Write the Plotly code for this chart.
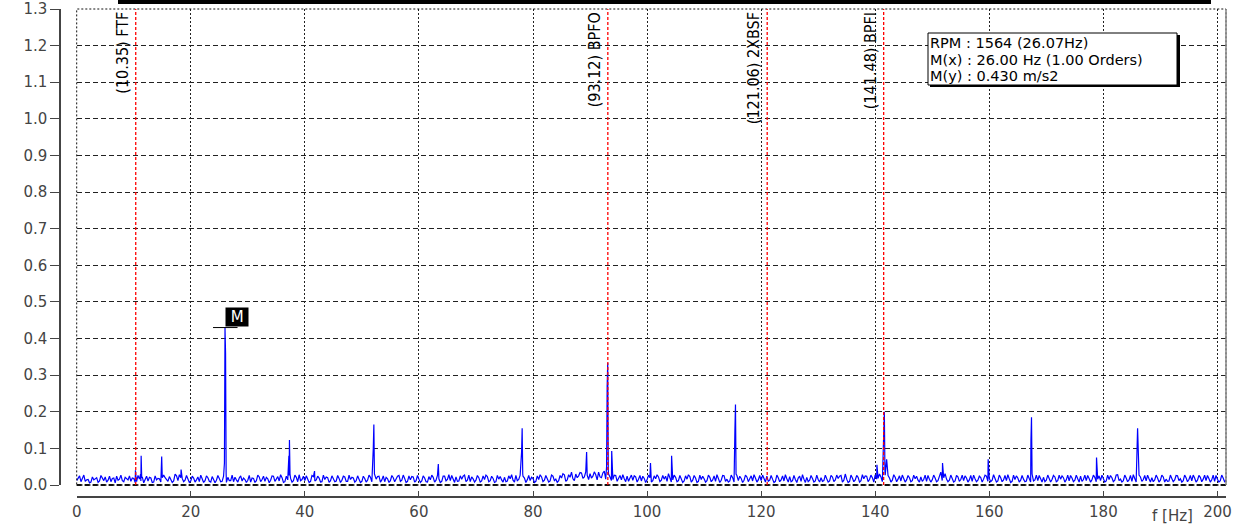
import numpy as np
import plotly.graph_objects as go

# ---------------- data ----------------
BASE_STEP = 0.5  # Hz between baseline spectral lines (two interleaved sets)
BASE_AMP = [
    0.012, 0.025, 0.018, 0.010, 0.015, 0.008, 0.014, 0.020, 0.011, 0.017, 0.022, 0.013, 0.009, 0.019, 0.024, 0.016, 0.012, 0.021, 0.014, 0.010,
    0.018, 0.009, 0.016, 0.022, 0.013, 0.011, 0.019, 0.008, 0.014, 0.017, 0.012, 0.020, 0.010, 0.015, 0.011, 0.025, 0.028, 0.018, 0.013, 0.016,
    0.011, 0.019, 0.014, 0.009, 0.017, 0.012, 0.020, 0.008, 0.015, 0.013, 0.018, 0.010, 0.016, 0.021, 0.012, 0.009, 0.014, 0.019, 0.011, 0.015,
    0.013, 0.008, 0.018, 0.012, 0.022, 0.015, 0.010, 0.017, 0.013, 0.024, 0.016, 0.011, 0.020, 0.009, 0.014, 0.018, 0.012, 0.021, 0.028, 0.015,
    0.012, 0.017, 0.010, 0.023, 0.014, 0.019, 0.009, 0.015, 0.020, 0.012, 0.016, 0.011, 0.018, 0.013, 0.022, 0.010, 0.015, 0.019, 0.012, 0.016,
    0.010, 0.018, 0.013, 0.021, 0.011, 0.016, 0.024, 0.014, 0.009, 0.017, 0.012, 0.020, 0.015, 0.026, 0.013, 0.018, 0.010, 0.014, 0.022, 0.012,
    0.016, 0.011, 0.019, 0.008, 0.014, 0.021, 0.013, 0.017, 0.010, 0.024, 0.015, 0.012, 0.018, 0.022, 0.011, 0.016, 0.027, 0.013, 0.009, 0.017,
    0.013, 0.020, 0.011, 0.015, 0.023, 0.012, 0.018, 0.009, 0.016, 0.014, 0.021, 0.011, 0.017, 0.013, 0.026, 0.015, 0.010, 0.019, 0.014, 0.012,
    0.018, 0.010, 0.015, 0.022, 0.013, 0.017, 0.011, 0.024, 0.016, 0.012, 0.019, 0.028, 0.014, 0.021, 0.017, 0.030, 0.025, 0.033, 0.022, 0.027,
    0.031, 0.024, 0.028, 0.035, 0.020, 0.038, 0.018, 0.022, 0.015, 0.026, 0.020, 0.014, 0.017, 0.024, 0.019, 0.013, 0.022, 0.016, 0.011, 0.018,
    0.014, 0.020, 0.012, 0.017, 0.022, 0.013, 0.016, 0.010, 0.019, 0.014, 0.021, 0.012, 0.018, 0.011, 0.016, 0.023, 0.013, 0.019, 0.010, 0.015,
    0.017, 0.012, 0.021, 0.014, 0.010, 0.018, 0.013, 0.025, 0.016, 0.011, 0.020, 0.015, 0.012, 0.018, 0.013, 0.022, 0.017, 0.011, 0.019, 0.014,
    0.012, 0.018, 0.024, 0.013, 0.016, 0.010, 0.020, 0.014, 0.011, 0.017, 0.023, 0.012, 0.015, 0.019, 0.010, 0.016, 0.021, 0.013, 0.018, 0.011,
    0.015, 0.020, 0.012, 0.017, 0.011, 0.022, 0.014, 0.018, 0.026, 0.013, 0.016, 0.010, 0.019, 0.014, 0.021, 0.012, 0.017, 0.024, 0.015, 0.020,
    0.028, 0.018, 0.022, 0.015, 0.012, 0.019, 0.013, 0.021, 0.016, 0.011, 0.018, 0.014, 0.020, 0.012, 0.017, 0.013, 0.022, 0.015, 0.010, 0.016,
    0.014, 0.019, 0.012, 0.035, 0.020, 0.016, 0.013, 0.018, 0.011, 0.022, 0.015, 0.012, 0.019, 0.014, 0.010, 0.017, 0.013, 0.020, 0.016, 0.024,
    0.018, 0.013, 0.016, 0.011, 0.020, 0.014, 0.012, 0.017, 0.010, 0.015, 0.019, 0.013, 0.016, 0.011, 0.018, 0.024, 0.014, 0.012, 0.017, 0.021,
    0.013, 0.018, 0.015, 0.022, 0.012, 0.016, 0.020, 0.014, 0.011, 0.019, 0.013, 0.017, 0.024, 0.015, 0.012, 0.018, 0.014, 0.021, 0.016, 0.012,
    0.017, 0.011, 0.015, 0.020, 0.013, 0.028, 0.016, 0.012, 0.019, 0.014, 0.010, 0.018, 0.013, 0.022, 0.015, 0.011, 0.017, 0.020, 0.014, 0.019,
    0.013, 0.022, 0.016, 0.011, 0.018, 0.014, 0.025, 0.017, 0.012, 0.020, 0.015, 0.011, 0.019, 0.013, 0.021, 0.016, 0.012, 0.018, 0.014, 0.010,
    0.016, 0.012, 0.019, 0.013,
]
# baseline lines offset by a quarter step (x + 0.25 Hz)
BASE_AMP_Q = [
    0.020, 0.009, 0.027, 0.014, 0.006, 0.022, 0.017, 0.007, 0.026, 0.012, 0.008, 0.024, 0.018, 0.006, 0.013, 0.027, 0.009, 0.016, 0.025, 0.019,
    0.007, 0.026, 0.011, 0.006, 0.024, 0.021, 0.007, 0.025, 0.018, 0.008, 0.027, 0.013, 0.023, 0.007, 0.030, 0.012, 0.020, 0.009, 0.026, 0.007,
    0.024, 0.008, 0.022, 0.027, 0.007, 0.025, 0.010, 0.023, 0.006, 0.026, 0.009, 0.024, 0.007, 0.012, 0.027, 0.021, 0.008, 0.025, 0.019, 0.007,
    0.026, 0.019, 0.007, 0.027, 0.009, 0.024, 0.021, 0.006, 0.025, 0.010, 0.023, 0.028, 0.007, 0.024, 0.026, 0.008, 0.027, 0.009, 0.012, 0.024,
    0.025, 0.007, 0.026, 0.011, 0.024, 0.008, 0.027, 0.022, 0.007, 0.025, 0.009, 0.026, 0.007, 0.024, 0.010, 0.027, 0.021, 0.008, 0.025, 0.007,
    0.024, 0.008, 0.027, 0.009, 0.026, 0.023, 0.008, 0.025, 0.021, 0.007, 0.026, 0.009, 0.024, 0.010, 0.027, 0.007, 0.025, 0.023, 0.008, 0.026,
    0.007, 0.025, 0.009, 0.023, 0.027, 0.008, 0.026, 0.007, 0.024, 0.011, 0.028, 0.026, 0.007, 0.010, 0.025, 0.024, 0.009, 0.027, 0.022, 0.008,
    0.026, 0.008, 0.025, 0.027, 0.009, 0.024, 0.007, 0.026, 0.023, 0.008, 0.009, 0.025, 0.028, 0.008, 0.012, 0.027, 0.024, 0.007, 0.026, 0.021,
    0.007, 0.025, 0.028, 0.009, 0.026, 0.008, 0.027, 0.012, 0.007, 0.026, 0.031, 0.010, 0.028, 0.035, 0.012, 0.020, 0.034, 0.018, 0.036, 0.015,
    0.019, 0.036, 0.014, 0.022, 0.033, 0.016, 0.030, 0.012, 0.027, 0.010, 0.026, 0.028, 0.009, 0.010, 0.027, 0.025, 0.008, 0.026, 0.024, 0.007,
    0.027, 0.008, 0.025, 0.028, 0.009, 0.026, 0.024, 0.031, 0.008, 0.027, 0.009, 0.026, 0.007, 0.025, 0.028, 0.008, 0.026, 0.007, 0.027, 0.024,
    0.008, 0.027, 0.009, 0.025, 0.028, 0.007, 0.026, 0.010, 0.008, 0.027, 0.008, 0.026, 0.024, 0.007, 0.027, 0.009, 0.025, 0.028, 0.008, 0.026,
    0.027, 0.008, 0.010, 0.026, 0.007, 0.027, 0.009, 0.025, 0.028, 0.008, 0.009, 0.026, 0.007, 0.024, 0.028, 0.007, 0.009, 0.026, 0.008, 0.027,
    0.008, 0.010, 0.027, 0.008, 0.026, 0.009, 0.027, 0.024, 0.008, 0.030, 0.007, 0.027, 0.009, 0.026, 0.008, 0.028, 0.025, 0.009, 0.027, 0.008,
    0.016, 0.030, 0.009, 0.027, 0.026, 0.008, 0.028, 0.009, 0.025, 0.027, 0.008, 0.026, 0.009, 0.027, 0.024, 0.008, 0.010, 0.027, 0.026, 0.008,
    0.027, 0.009, 0.026, 0.012, 0.031, 0.009, 0.027, 0.008, 0.026, 0.010, 0.027, 0.025, 0.008, 0.026, 0.027, 0.009, 0.024, 0.008, 0.027, 0.010,
    0.009, 0.028, 0.008, 0.027, 0.009, 0.026, 0.028, 0.007, 0.027, 0.025, 0.008, 0.026, 0.009, 0.027, 0.008, 0.011, 0.027, 0.026, 0.008, 0.009,
    0.027, 0.008, 0.026, 0.009, 0.027, 0.025, 0.008, 0.027, 0.026, 0.009, 0.027, 0.008, 0.010, 0.027, 0.026, 0.008, 0.027, 0.009, 0.025, 0.027,
    0.008, 0.027, 0.026, 0.009, 0.027, 0.012, 0.008, 0.027, 0.009, 0.026, 0.028, 0.008, 0.027, 0.010, 0.026, 0.027, 0.008, 0.009, 0.027, 0.008,
    0.027, 0.008, 0.010, 0.027, 0.009, 0.026, 0.012, 0.008, 0.027, 0.009, 0.026, 0.027, 0.008, 0.026, 0.009, 0.027, 0.026, 0.008, 0.027, 0.026,
    0.008, 0.027, 0.009, 0.024,
]

# discrete spectral peaks (frequency in Hz, amplitude in m/s2)
PEAK_FREQ = [10.3, 10.4, 11.2, 11.3, 11.4, 14.8, 14.9, 15.0, 18.3, 18.4,
             25.9, 26.0, 26.1, 26.2, 37.1, 37.2, 37.3, 37.4, 41.7,
             52.0, 52.1, 52.2, 63.4, 78.0, 78.1, 78.2, 89.4,
             92.9, 93.0, 93.1, 93.2, 93.8, 100.6, 104.3,
             115.4, 115.5, 115.6, 140.3, 141.5, 141.6, 141.7, 142.0,
             151.8, 159.8, 167.3, 167.4, 167.5, 178.8, 186.0]
PEAK_AMP = [0.040, 0.020, 0.030, 0.080, 0.020, 0.030, 0.078, 0.020, 0.042, 0.020,
            0.060, 0.430, 0.360, 0.030, 0.050, 0.080, 0.123, 0.030, 0.038,
            0.100, 0.165, 0.030, 0.057, 0.090, 0.155, 0.030, 0.090,
            0.050, 0.270, 0.333, 0.040, 0.093, 0.060, 0.080,
            0.150, 0.220, 0.030, 0.055, 0.120, 0.200, 0.040, 0.070,
            0.060, 0.070, 0.120, 0.185, 0.030, 0.075, 0.155]

FAULT_FREQ = [10.35, 93.12, 121.06, 141.48]
FAULT_NAME = ["FTF", "BPFO", "2XBSF", "BPFI"]

MARK_X = 26.00
MARK_Y = 0.430
INFO_LINES = ["RPM : 1564 (26.07Hz)", "M(x) : 26.00 Hz (1.00 Orders)", "M(y) : 0.430 m/s2"]

X_TICKS = [0, 20, 40, 60, 80, 100, 120, 140, 160, 180, 200]
Y_TICKS = [0.0, 0.1, 0.2, 0.3, 0.4, 0.5, 0.6, 0.7, 0.8, 0.9, 1.0, 1.1, 1.2, 1.3]

# ---------------- build series ----------------
pts = {}
for i, a in enumerate(BASE_AMP):
    pts[round(i * BASE_STEP, 3)] = a
for i, a in enumerate(BASE_AMP_Q):
    pts[round(i * BASE_STEP + BASE_STEP / 2, 3)] = a
for f, a in zip(PEAK_FREQ, PEAK_AMP):
    pts[round(f, 3)] = a
freq = sorted(pts)
amp = [pts[f] for f in freq]

W, H = 1235, 528
ML, MR, MT, MB = 60, 9, 9, 31
PW, PH = W - ML - MR, H - MT - MB


def px_x(p):
    return (p - ML) / PW


def px_y(p):
    return (H - MB - p) / PH


fig = go.Figure()
fig.add_trace(go.Scatter(x=freq, y=amp, mode="lines",
                         line=dict(color="#0000ff", width=1.2),
                         hoverinfo="skip", showlegend=False))

tick_font = dict(family="DejaVu Sans, sans-serif", size=15, color="#444444")
fig.update_layout(
    width=W, height=H,
    margin=dict(l=ML, r=MR, t=MT, b=MB, pad=0, autoexpand=False),
    paper_bgcolor="white", plot_bgcolor="white",
    xaxis=dict(domain=[px_x(76.7), 1], range=[0, 201.5], anchor="free", position=0,
               automargin=False,
               tickvals=X_TICKS, ticks="inside", ticklen=5, tickcolor="#444",
               ticklabelstandoff=1,
               showline=True, linecolor="#444", linewidth=1.5,
               showgrid=True, gridcolor="#222", gridwidth=1.3, griddash="2px,2px",
               zeroline=False, tickfont=tick_font),
    yaxis=dict(domain=[px_y(485), 1], range=[0, 1.3], anchor="free", position=0,
               automargin=False,
               tickvals=Y_TICKS, ticktext=[f"{v:.1f}" for v in Y_TICKS],
               ticks="outside", ticklen=9, tickcolor="#444",
               showline=True, linecolor="#444", linewidth=1.5,
               showgrid=True, gridcolor="#222", gridwidth=1, griddash="5px,3px",
               zeroline=False, tickfont=tick_font),
)

# plot frame
fig.add_shape(type="rect", xref="x domain", yref="y domain", x0=0, x1=1, y0=0, y1=1,
              line=dict(color="#111", width=1, dash="2px,2px"))
fig.add_shape(type="line", xref="x domain", yref="y domain", x0=0, x1=1, y0=0, y1=0,
              line=dict(color="#111", width=2, dash="5px,3px"))
fig.add_shape(type="line", xref="x domain", yref="y domain", x0=1, x1=1, y0=0, y1=1,
              line=dict(color="#888", width=1.5))

# top bar (edge of header box)
fig.add_shape(type="line", xref="paper", yref="paper", x0=px_x(118), x1=px_x(1211),
              y0=px_y(2), y1=px_y(2), line=dict(color="black", width=4))

# fault frequency markers
label_font = dict(family="Liberation Sans Narrow, DejaVu Sans Condensed, Arial Narrow, sans-serif",
                  size=16, color="black")
for f, name in zip(FAULT_FREQ, FAULT_NAME):
    fig.add_shape(type="line", xref="x", yref="y domain", x0=f, x1=f, y0=0, y1=1,
                  line=dict(color="#ff0000", width=1.3, dash="3px,2px"))
    fig.add_annotation(x=f, y=px_y(10), xref="x", yref="paper", text=f"({f:.2f}) {name}",
                       textangle=-90, showarrow=False, xanchor="center", yanchor="top",
                       xshift=-13, font=label_font)

# marker M
fig.add_shape(type="line", xref="x", yref="y", x0=MARK_X - 2.1, x1=MARK_X + 2.2,
              y0=MARK_Y, y1=MARK_Y, line=dict(color="black", width=1))
fig.add_annotation(x=MARK_X, y=MARK_Y, xref="x", yref="y", text=" M ", showarrow=False,
                   xanchor="left", yanchor="bottom", yshift=1, bgcolor="black",
                   borderpad=0, font=dict(family="DejaVu Sans, sans-serif", size=15, color="white"))

# info box with shadow
fig.add_shape(type="rect", xref="paper", yref="paper", x0=px_x(930), x1=px_x(1180),
              y0=px_y(35), y1=px_y(87), fillcolor="black", line=dict(width=0))
fig.add_shape(type="rect", xref="paper", yref="paper", x0=px_x(928), x1=px_x(1177),
              y0=px_y(33), y1=px_y(85), fillcolor="white", line=dict(color="black", width=1))
for k, line in enumerate(INFO_LINES):
    fig.add_annotation(x=px_x(929), y=px_y(33.5 + 17 * k), xref="paper", yref="paper",
                       text=line, showarrow=False, xanchor="left", yanchor="top",
                       borderpad=0,
                       font=dict(family="DejaVu Sans, sans-serif", size=14.5, color="black"))

# axis title
fig.add_annotation(x=px_x(1150), y=px_y(505), xref="paper", yref="paper", text="f [Hz]",
                   showarrow=False, xanchor="left", yanchor="top",
                   font=dict(family="DejaVu Sans, sans-serif", size=15, color="#444"))

fig.write_html("out.html")
